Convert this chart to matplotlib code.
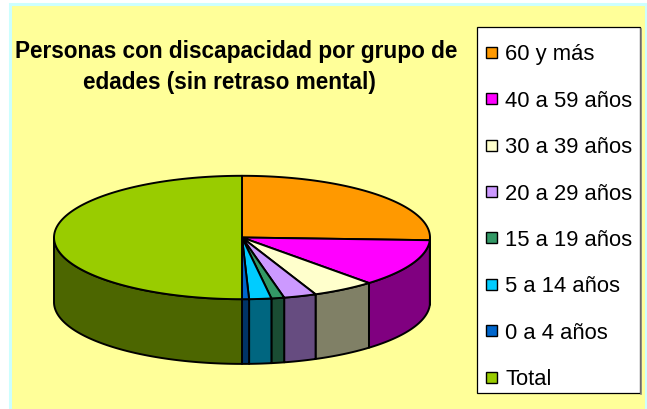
import numpy as np
import matplotlib
matplotlib.use("Agg")
import matplotlib.pyplot as plt
from matplotlib.patches import Polygon, Rectangle

title_lines = ["Personas con discapacidad por grupo de", "edades (sin retraso mental)"]
labels = ["60 y más", "40 a 59 años", "30 a 39 años", "20 a 29 años",
          "15 a 19 años", "5 a 14 años", "0 a 4 años", "Total"]
values = [25.7, 12.5, 5.4, 2.8, 1.1, 1.9, 0.6, 50.0]
colors = ["#FF9900", "#FF00FF", "#FFFFCC", "#CC99FF",
          "#339966", "#00CCFF", "#0066CC", "#99CC00"]
side_colors = ["#804C00", "#800080", "#808066", "#664C80",
               "#1A4C33", "#006680", "#003366", "#4C6600"]

W, H = 647, 409
fig = plt.figure(figsize=(W / 100, H / 100), dpi=100)
fig.patch.set_facecolor("white")
ax = fig.add_axes([0, 0, 1, 1])
ax.set_xlim(0, W)
ax.set_ylim(H, 0)
ax.axis("off")

# chart area background
ax.add_patch(Rectangle((10, 4), 636, 420, facecolor="#FFFF99",
                       edgecolor="#CCFFFF", lw=2.2, zorder=0))

# title
font = "Liberation Sans"
ax.text(236, 58.3, title_lines[0], ha="center", va="baseline",
        fontsize=16.3, fontweight="bold", family=font)
ax.text(229, 89.3, title_lines[1], ha="center", va="baseline",
        fontsize=16.3, fontweight="bold", family=font)

# 3d pie (ellipse + depth)
cx, cy, a, b, depth = 242, 237.5, 188, 61.7, 64.7
vals = np.array(values, dtype=float)
spans = vals / vals.sum() * 360
starts = 90 - np.concatenate([[0], np.cumsum(spans)[:-1]])
ends = starts - spans


def arc(t0, t1, dy=0.0, n=120):
    t = np.radians(np.linspace(t0, t1, n))
    return np.column_stack([cx + a * np.cos(t), cy + dy - b * np.sin(t)])


edge = dict(edgecolor="black", lw=1.4, joinstyle="round")

# side walls on the front half
for t0, t1, sc in zip(starts, ends, side_colors):
    hi = min(t0, 0)
    lo = max(t1, -180)
    if hi > lo:
        top = arc(hi, lo)
        bot = arc(lo, hi, dy=depth)
        ax.add_patch(Polygon(np.vstack([top, bot]), closed=True,
                             facecolor=sc, zorder=2, **edge))

# top faces
for t0, t1, c in zip(starts, ends, colors):
    pts = np.vstack([[cx, cy], arc(t0, t1)])
    ax.add_patch(Polygon(pts, closed=True, facecolor=c, zorder=3, **edge))

# legend
lx, ly, lw_, lh = 477, 27, 163, 366
ax.add_patch(Rectangle((lx, ly), lw_, lh, facecolor="white",
                       edgecolor="black", lw=0.9, zorder=4))
ax.plot([lx + lw_ + 1.2] * 2, [ly + 2, ly + lh + 0.5], color="#808080",
        lw=1.2, zorder=4)
row0, step, msz = 52.3, 46.4, 11
for i, (lab, c) in enumerate(zip(labels, colors)):
    yc = row0 + i * step
    ax.add_patch(Rectangle((486, yc - msz / 2), msz, msz, facecolor=c,
                           edgecolor="black", lw=1.0, zorder=5))
    ax.text(505, yc + 8, lab, ha="left", va="baseline", fontsize=15.8,
            family=font, zorder=5)

fig.savefig("out.png", dpi=100)
